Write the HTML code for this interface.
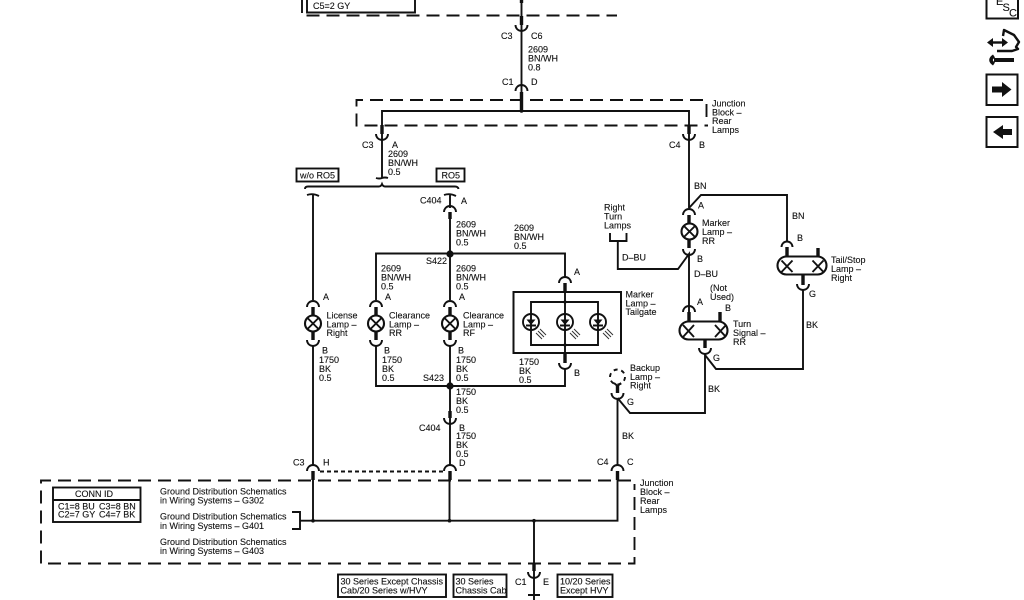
<!DOCTYPE html>
<html><head><meta charset="utf-8"><style>
html,body{margin:0;padding:0;background:#fff;width:1024px;height:600px;overflow:hidden}
svg{display:block}
text{font-family:"Liberation Sans",sans-serif;font-size:9px;fill:#111;stroke:#111;stroke-width:.12}
.w{fill:none;stroke:#111;stroke-width:1.9}
.t{fill:none;stroke:#111;stroke-width:3.4}
.c{fill:none;stroke:#111;stroke-width:1.9}
.d{fill:none;stroke:#111;stroke-width:1.9;stroke-dasharray:13 7}
.b{fill:#fff;stroke:#111;stroke-width:1.9}
</style></head><body>
<svg width="1024" height="600" viewBox="0 0 1024 600" xmlns="http://www.w3.org/2000/svg">
<!-- top block -->
<path class="d" d="M302 0V15.500H617"/>
<path class="w" d="M307 0V12.500H415V0"/>
<text x="313" y="9">C5=2 GY</text>
<path class="t" d="M521.500 16V25M521.500 92V110M521.500 0V3"/>
<path class="w" d="M521.500 0V110"/>
<path class="c" d="M515.500 25a6 6 0 0 0 12 0M515.500 91a6 6 0 0 1 12 0"/>
<text x="501" y="39">C3</text><text x="531" y="39">C6</text>
<text x="528" y="52.500">2609</text><text x="528" y="61.500">BN/WH</text><text x="528" y="70.500">0.8</text>
<text x="502" y="85">C1</text><text x="531" y="85">D</text>
<!-- junction top -->
<path class="d" d="M703 100H356.500V125.500H708"/>
<path class="w" d="M706.500 104V117"/>
<path class="w" d="M382 178V111H689V208"/>
<circle cx="521.500" cy="111" r="1.800" fill="#111"/>
<path class="t" d="M382 125V134M689 125V134"/>
<path class="c" d="M376 134a6 6 0 0 0 12 0M683 134a6 6 0 0 0 12 0"/>
<text x="712" y="106.500">Junction</text><text x="712" y="115.500">Block –</text><text x="712" y="124">Rear</text><text x="712" y="133">Lamps</text>
<text x="362" y="148">C3</text><text x="392" y="148">A</text>
<text x="388" y="157">2609</text><text x="388" y="166">BN/WH</text><text x="388" y="175">0.5</text>
<text x="669" y="148">C4</text><text x="699" y="148">B</text>
<!-- selector -->
<rect class="b" x="296.500" y="168.500" width="42" height="13"/><text x="300" y="178.500">w/o RO5</text>
<rect class="b" x="436.500" y="168.500" width="28" height="13"/><text x="441.500" y="178.500">RO5</text>
<path class="w" d="M305 189Q305 186.500 308 186.500H379Q381 186.500 382 184Q383 186.500 385 186.500H455Q458 186.500 458.500 189M376 178Q379 179 382 178Q385 177 388 178"/>
<!-- license -->
<path class="w" d="M313 195V300M313 346V466"/>
<path class="w" d="M307 195Q313 193 319 196M444 195Q450 193 456 196M450 195V208"/>
<path class="c" d="M307 307a6 6 0 0 1 12 0M307 340a6 6 0 0 0 12 0M307 471a6 6 0 0 1 12 0"/>
<path class="t" d="M313 307V315M313 332V340M313 471V480"/>
<circle class="b" cx="313" cy="323.500" r="8" style="stroke-width:2.100"/>
<path class="w" d="M307.500 318L318.500 329M318.500 318L307.500 329"/>
<text x="323" y="300">A</text>
<text x="326.500" y="318.500">License</text><text x="326.500" y="327.500">Lamp –</text><text x="326.500" y="336">Right</text>
<text x="322" y="353.500">B</text><text x="319" y="363">1750</text><text x="319" y="372">BK</text><text x="319" y="381">0.5</text>
<text x="293" y="465.500">C3</text><text x="323" y="465.500">H</text>
<!-- C404 -->
<path class="c" d="M444 212a6 6 0 0 1 12 0"/>
<path class="t" d="M450 212V219"/>
<text x="420" y="203.500">C404</text><text x="461" y="204">A</text>
<text x="456" y="227.500">2609</text><text x="456" y="236.500">BN/WH</text><text x="456" y="245.500">0.5</text>
<text x="514" y="231">2609</text><text x="514" y="240">BN/WH</text><text x="514" y="249">0.5</text>
<path class="w" d="M450 212V300M376 300V253.500H565V278"/>
<circle cx="450" cy="254" r="3.600" fill="#111"/>
<text x="426" y="264">S422</text>
<text x="381" y="271.500">2609</text><text x="381" y="280.500">BN/WH</text><text x="381" y="289.500">0.5</text>
<text x="456" y="271.500">2609</text><text x="456" y="280.500">BN/WH</text><text x="456" y="289.500">0.5</text>
<text x="385" y="300">A</text><text x="459" y="300">A</text>
<!-- clearance RR -->
<path class="c" d="M370 307a6 6 0 0 1 12 0M370 340a6 6 0 0 0 12 0"/>
<path class="t" d="M376 307V315M376 332V340"/>
<circle class="b" cx="376" cy="323.500" r="8" style="stroke-width:2.100"/>
<path class="w" d="M370.500 318L381.500 329M381.500 318L370.500 329"/>
<text x="389" y="318.500">Clearance</text><text x="389" y="327.500">Lamp –</text><text x="389" y="336">RR</text>
<text x="384" y="353.500">B</text><text x="382" y="363">1750</text><text x="382" y="372">BK</text><text x="382" y="381">0.5</text>
<!-- clearance RF -->
<path class="c" d="M444 307a6 6 0 0 1 12 0M444 340a6 6 0 0 0 12 0"/>
<path class="t" d="M450 307V315M450 332V340"/>
<circle class="b" cx="450" cy="323.500" r="8" style="stroke-width:2.100"/>
<path class="w" d="M444.500 318L455.500 329M455.500 318L444.500 329"/>
<text x="463" y="318.500">Clearance</text><text x="463" y="327.500">Lamp –</text><text x="463" y="336">RF</text>
<text x="458" y="353.500">B</text><text x="456" y="363">1750</text><text x="456" y="372">BK</text><text x="456" y="381">0.5</text>
<path class="w" d="M376 346V386H565V369M450 346V466"/>
<circle cx="450" cy="386" r="3.600" fill="#111"/>
<text x="423" y="381">S423</text>
<text x="456" y="395">1750</text><text x="456" y="404">BK</text><text x="456" y="413">0.5</text>
<path class="t" d="M450 411V418"/>
<path class="c" d="M444 418a6 6 0 0 0 12 0"/>
<text x="419" y="431">C404</text><text x="459" y="431">B</text>
<text x="456" y="439">1750</text><text x="456" y="448">BK</text><text x="456" y="457">0.5</text>
<text x="459" y="466">D</text>
<path class="c" d="M444 471a6 6 0 0 1 12 0"/>
<path class="t" d="M450 471V480"/>
<path class="w" d="M320 471.500H443" style="stroke-dasharray:4 3"/>
<!-- marker tailgate -->
<path class="c" d="M559 283a6 6 0 0 1 12 0M559 363a6 6 0 0 0 12 0"/>
<path class="t" d="M565 283V292M565 354V363"/>
<text x="574" y="275">A</text><text x="574" y="376">B</text>
<rect x="513.500" y="292" width="107.500" height="61" fill="#fff" stroke="#111" stroke-width="2"/>
<path class="w" d="M565 292V353M531 302H598V345H531Z"/>
<circle cx="565" cy="302" r="1.600" fill="#111"/><circle cx="565" cy="345" r="1.600" fill="#111"/>
<circle class="b" cx="531" cy="322" r="8"/><circle class="b" cx="565" cy="322" r="8"/><circle class="b" cx="598" cy="322" r="8"/>
<path class="w" d="M531 314V330M565 314V330M598 314V330M526 325.500H536M560 325.500H570M593 325.500H603"/>
<path fill="#111" d="M526.500 319.500H535.500L531 325ZM560.500 319.500H569.500L565 325ZM593.500 319.500H602.500L598 325Z"/>
<path stroke="#333" stroke-width="1" fill="none" d="M540 329L546 335M538 331L544 337M536 333L542 339M574 329L580 335M572 331L578 337M570 333L576 339M607 329L613 335M605 331L611 337M603 333L609 339"/>
<text x="625.500" y="297.500">Marker</text><text x="625.500" y="306.500">Lamp –</text><text x="625.500" y="315">Tailgate</text>
<text x="519" y="365">1750</text><text x="519" y="374">BK</text><text x="519" y="383">0.5</text>
<!-- right side -->
<text x="694" y="189">BN</text>
<path class="w" d="M689 208L701 195H787V241"/>
<text x="698" y="208.500">A</text>
<text x="792" y="219">BN</text><text x="797" y="241">B</text>
<path class="c" d="M683 215a6 6 0 0 1 12 0M683 249a6 6 0 0 0 12 0M781.500 247a5.500 5.500 0 0 1 11 0"/>
<path class="t" d="M689 215V224M689 239V248"/>
<circle class="b" cx="689.500" cy="231.500" r="8" style="stroke-width:2.100"/>
<path class="w" d="M684 226L695 237M695 226L684 237"/>
<text x="702" y="226">Marker</text><text x="702" y="235">Lamp –</text><text x="702" y="244">RR</text>
<text x="697" y="262">B</text>
<text x="604" y="210.500">Right</text><text x="604" y="219.500">Turn</text><text x="604" y="228.500">Lamps</text>
<path class="w" d="M610 233V241H626.500V233M617.800 241V269H678L689 254V314"/>
<text x="622" y="260.500">D–BU</text><text x="694" y="277">D–BU</text>
<!-- tail stop -->
<path class="t" d="M787 247V256M818 248V256M803 275V285"/>
<rect class="b" x="777.500" y="256.500" width="49" height="18" rx="9" style="stroke-width:2.100"/>
<path class="w" d="M781.500 260.500L792.500 272M792.500 260.500L781.500 272M812.500 260.500L823.500 272M823.500 260.500L812.500 272"/>
<text x="831" y="263">Tail/Stop</text><text x="831" y="272">Lamp –</text><text x="831" y="281">Right</text>
<path class="c" d="M797 284a6 6 0 0 0 12 0"/>
<path class="w" d="M803 290V369H716L705 355"/>
<text x="809" y="297">G</text><text x="806" y="328">BK</text>
<!-- turn signal -->
<text x="710" y="291">(Not</text><text x="710" y="300">Used)</text>
<text x="725" y="311">B</text><text x="697" y="305">A</text>
<path class="c" d="M683 312a6 6 0 0 1 12 0M699 348a6 6 0 0 0 12 0"/>
<path class="t" d="M689 312V321M720 312V321M705 340V348"/>
<rect class="b" x="679.500" y="321.500" width="48" height="18" rx="9" style="stroke-width:2.100"/>
<path class="w" d="M683 325L694 337M694 325L683 337M715 325L726 337M726 325L715 337"/>
<text x="733" y="327">Turn</text><text x="733" y="336">Signal –</text><text x="733" y="345">RR</text>
<text x="713" y="361">G</text><text x="708" y="392">BK</text>
<path class="w" d="M705 354V413H630L617.500 398"/>
<!-- backup -->
<circle cx="617.500" cy="377" r="7.500" fill="none" stroke="#111" stroke-width="1.900" stroke-dasharray="4 3.800"/>
<path class="t" d="M617.500 385V393"/>
<path class="w" d="M614 383L617.500 386L621 383"/>
<path class="c" d="M611.500 393a6 6 0 0 0 12 0"/>
<text x="630" y="371">Backup</text><text x="630" y="380">Lamp –</text><text x="630" y="388.500">Right</text>
<text x="627" y="405">G</text><text x="622" y="439">BK</text>
<path class="w" d="M617.500 398V466"/>
<text x="597" y="465">C4</text><text x="627" y="465">C</text>
<path class="c" d="M611.500 471a6 6 0 0 1 12 0"/>
<path class="t" d="M617.500 471V480"/>
<!-- lower junction -->
<path class="d" d="M631 480.500H41V563.500H634.500V484"/>
<path class="w" d="M292 512H300V529H292M300 520.700H617.500V480M313 480V520.700M449.500 480V520.700M534 520.700V600"/>
<circle cx="313" cy="520.700" r="1.800" fill="#111"/><circle cx="449.500" cy="520.700" r="1.800" fill="#111"/><circle cx="534" cy="520.700" r="1.800" fill="#111"/>
<path class="t" d="M534 564V571"/>
<path class="c" d="M528 572a6 6 0 0 0 12 0M528 595H540"/>
<rect x="53" y="487.500" width="87.500" height="34.500" fill="#fff" stroke="#111" stroke-width="1.900"/>
<path class="w" d="M53 500H140.500"/>
<text x="75" y="497">CONN ID</text>
<text x="58" y="509.500">C1=8 BU</text><text x="99" y="509.500">C3=8 BN</text>
<text x="58" y="517.500">C2=7 GY</text><text x="99" y="517.500">C4=7 BK</text>
<text x="160" y="494.500">Ground Distribution Schematics</text><text x="160" y="503.500">in Wiring Systems – G302</text>
<text x="160" y="519.500">Ground Distribution Schematics</text><text x="160" y="529">in Wiring Systems – G401</text>
<text x="160" y="545">Ground Distribution Schematics</text><text x="160" y="554">in Wiring Systems – G403</text>
<text x="640" y="486">Junction</text><text x="640" y="495">Block –</text><text x="640" y="504">Rear</text><text x="640" y="513">Lamps</text>
<rect class="b" x="338" y="574.500" width="108" height="22.500"/><text x="340.500" y="584.500">30 Series Except Chassis</text><text x="340.500" y="593.500">Cab/20 Series w/HVY</text>
<rect class="b" x="453.500" y="574.500" width="53" height="22.500"/><text x="455.500" y="584.500">30 Series</text><text x="455.500" y="593.500">Chassis Cab</text>
<rect class="b" x="557.500" y="574.500" width="55" height="22.500"/><text x="560" y="584.500">10/20 Series</text><text x="560" y="593.500">Except HVY</text>
<text x="515" y="585">C1</text><text x="543" y="585">E</text>
<!-- icons -->
<rect x="986.500" y="-4" width="31.500" height="22.500" fill="none" stroke="#111" stroke-width="2"/>
<text x="996" y="5" style="font-size:11px">E</text><text x="1002.500" y="11" style="font-size:11px">S</text><text x="1009" y="16.500" style="font-size:11px">C</text>
<path fill="none" stroke="#111" stroke-width="2.400" d="M991 42.500H1004"/>
<path fill="#111" d="M987 42.500L993 38V47ZM1008 42.500L1002 38V47Z"/>
<path fill="none" stroke="#111" stroke-width="2.400" stroke-linejoin="round" d="M1003 36L1004 30L1014 35L1019 42L1016 47L1018 49L1012 51H997"/>
<path fill="none" stroke="#111" stroke-width="4" d="M994 60H1014"/>
<path fill="none" stroke="#111" stroke-width="3.600" d="M994 56Q988 60 994 64"/>
<rect x="986.500" y="74.500" width="31" height="30.500" fill="#fff" stroke="#111" stroke-width="2"/>
<path fill="#111" d="M992 86.500H1002V82L1011.500 89.500L1002 97V92.500H992Z"/>
<rect x="986.500" y="117" width="31" height="30" fill="#fff" stroke="#111" stroke-width="2"/>
<path fill="#111" d="M1012 129H1003V125L993 132L1003 139V135H1012Z"/>
</svg>
</body></html>
